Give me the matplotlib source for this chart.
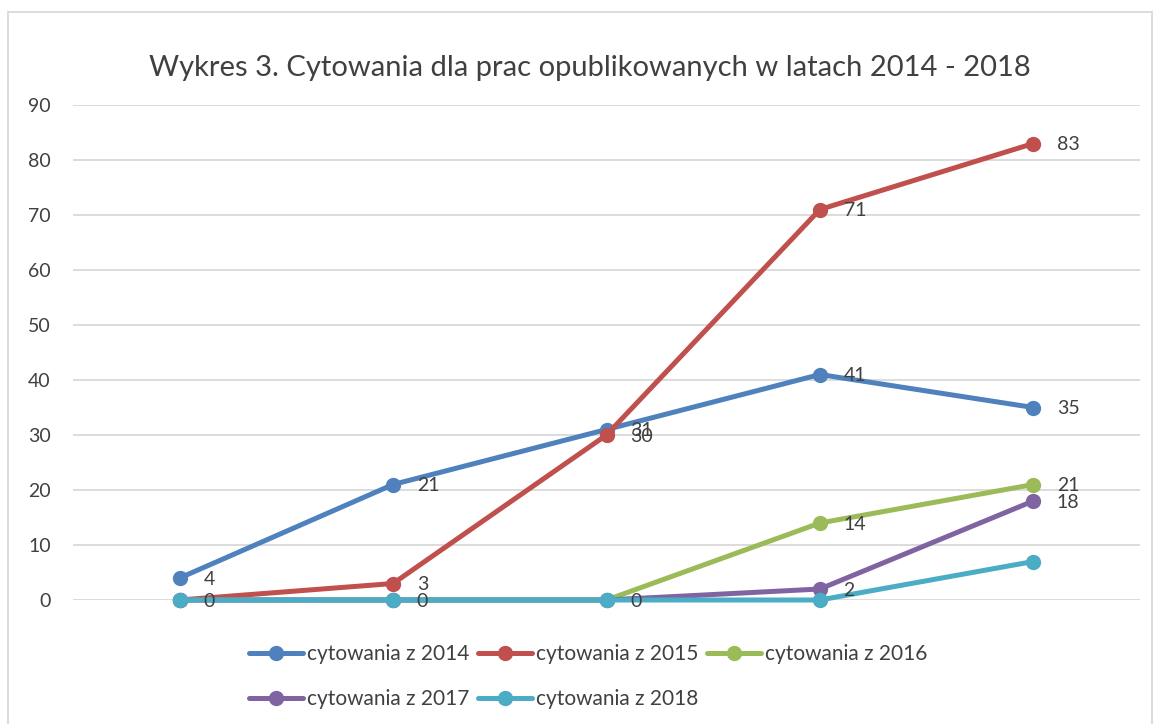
import matplotlib
matplotlib.use("Agg")
import matplotlib.pyplot as plt
from matplotlib.patches import Rectangle

plt.rcParams['font.family'] = ['Lato', 'DejaVu Sans']

# data
categories = [1, 2, 3, 4, 5]
c2014 = [4, 21, 31, 41, 35]
c2015 = [0, 3, 30, 71, 83]
c2016 = [0, 0, 0, 14, 21]
c2017 = [0, 0, 0, 2, 18]
c2018 = [0, 0, 0, 0, 7]
series_names = ['cytowania z 2014', 'cytowania z 2015', 'cytowania z 2016',
                'cytowania z 2017', 'cytowania z 2018']
# which points carry a data label
labels2014 = [True, True, True, True, True]
labels2015 = [True, True, True, True, True]
labels2016 = [False, True, True, True, True]
labels2017 = [False, False, False, True, True]
labels2018 = [False, False, False, False, False]

colors = ['#4F81BD', '#C0504D', '#9BBB59', '#8064A2', '#4BACC6']
text_color = '#404040'
grid_color = '#D9D9D9'

fig = plt.figure(figsize=(11.57, 7.24), dpi=100)
ax = fig.add_axes([73 / 1157, 124 / 724, 1067 / 1157, 495 / 724])

all_series = [c2014, c2015, c2016, c2017, c2018]
all_labels = [labels2014, labels2015, labels2016, labels2017, labels2018]
handles = []
for vals, mask, name, col in zip(all_series, all_labels, series_names, colors):
    h, = ax.plot(categories, vals, color=col, lw=3.6, marker='o', ms=10,
                 label=name, solid_capstyle='round', clip_on=False)
    handles.append(h)
    for x, y, show in zip(categories, vals, mask):
        if show:
            ax.annotate(str(y), (x, y), xytext=(17, -1), textcoords='offset points',
                        va='center', ha='left', fontsize=14, color=text_color)

ax.set_xlim(0.5, 5.5)
ax.set_ylim(0, 90)
ax.set_yticks(range(0, 91, 10))
ax.set_xticks([])
ax.yaxis.grid(True, color=grid_color, lw=1.3)
ax.set_axisbelow(True)
for s in ax.spines.values():
    s.set_visible(False)
ax.tick_params(axis='y', length=0, pad=16, labelsize=14, labelcolor=text_color)

fig.text(590 / 1157, 1 - 68 / 724,
         'Wykres 3. Cytowania dla prac opublikowanych w latach 2014 - 2018',
         ha='center', va='center', fontsize=21, color=text_color)

# legend: rows 2014/2015/2016 then 2017/2018
order = [0, 3, 1, 4, 2]
leg = fig.legend([handles[i] for i in order], [series_names[i] for i in order],
                 ncol=3, loc='upper center', bbox_to_anchor=(588 / 1157, 1 - 634 / 724),
                 frameon=False, fontsize=15, handlelength=2.6, handletextpad=0.2,
                 columnspacing=0.4, labelspacing=1.2, borderpad=0)
for t in leg.get_texts():
    t.set_color(text_color)

fig.patches.append(Rectangle((8 / 1157, -0.01), 1144 / 1157, 1 - 12 / 724 + 0.01,
                             transform=fig.transFigure, fill=False,
                             edgecolor=grid_color, lw=1.3))

fig.savefig('out.png', dpi=100)
